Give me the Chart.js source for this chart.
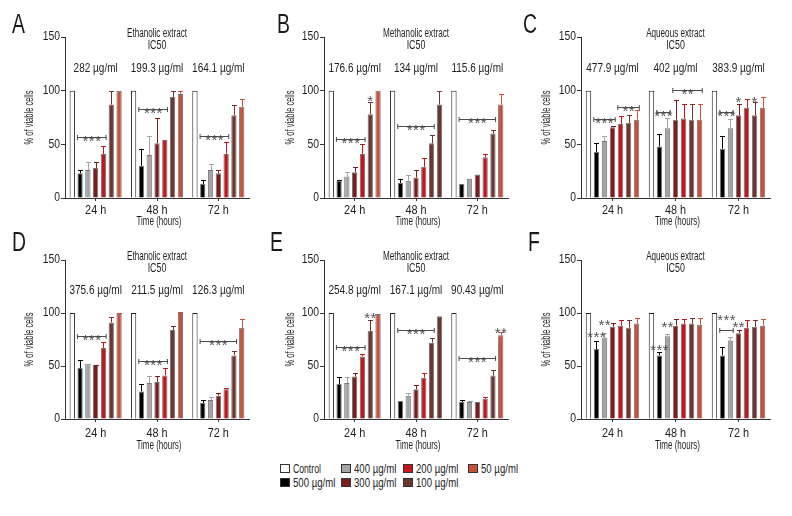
<!DOCTYPE html>
<html>
<head>
<meta charset="utf-8">
<script src="https://cdn.jsdelivr.net/npm/chart.js@4.4.1/dist/chart.umd.min.js"></script>
<style>
  body { margin: 0; background: #fff; width: 792px; height: 516px; position: relative; overflow: hidden;
         font-family: "Liberation Sans", Arial, sans-serif; }
  canvas { position: absolute; }
  .lg { position: absolute; font-size: 12px; color: #222; line-height: 14px; white-space: nowrap; }
  .lg i { display: inline-block; width: 8px; height: 7px; border: 1px solid #333; vertical-align: 0px; margin-right: 3px; }
  .lg span { display: inline-block; transform: scaleX(0.8); transform-origin: left center; }
</style>
</head>
<body>

<div class="lg" style="left:280px;top:462px"><i style="background:#ffffff"></i><span style="transform:scaleX(0.72)">Control</span></div>
<div class="lg" style="left:280px;top:476px"><i style="background:#000000"></i><span>500 µg/ml</span></div>
<div class="lg" style="left:341px;top:462px"><i style="background:#a4a4a4"></i><span>400 µg/ml</span></div>
<div class="lg" style="left:341px;top:476px"><i style="background:#7b1d1d"></i><span>300 µg/ml</span></div>
<div class="lg" style="left:403px;top:462px"><i style="background:#c3161d"></i><span>200 µg/ml</span></div>
<div class="lg" style="left:403px;top:476px"><i style="background:#6c3631"></i><span>100 µg/ml</span></div>
<div class="lg" style="left:468px;top:462px"><i style="background:#c5523a"></i><span>50 µg/ml</span></div>

<script>
const FONT = '"Liberation Sans", Arial, sans-serif';

const groups = ['24 h', '48 h', '72 h'];
const doses = ['Control', '500 µg/ml', '400 µg/ml', '300 µg/ml', '200 µg/ml', '100 µg/ml', '50 µg/ml'];
const doseColors = ['#ffffff', '#000000', '#a4a4a4', '#7b1d1d', '#c3161d', '#6c3631', '#c5523a'];
const yTicks = [0, 50, 100, 150];

// one row per time point, one value per dose (Control .. 50 µg/ml); err = top of the error bar
const aMean = [[100, 23, 26, 28, 41, 87, 100], [100, 30, 40, 51, 54, 94, 97], [100, 13, 26, 23, 41, 77, 85]];
const aErr  = [[null, 26, 34, 34, 48, 100, null], [null, 46, 58, 75, null, 100, 100], [null, 17, 32, 26, 52, 87, 92]];
const aIC50 = ['282 µg/ml', '199.3 µg/ml', '164.1 µg/ml'];
const aSig  = [
  { g: 0, from: 1, to: 4, y: 57, text: '***', line: true },
  { g: 1, from: 1, to: 4, y: 83, text: '***', line: true },
  { g: 2, from: 1, to: 4, y: 58, text: '***', line: true }
];

const bMean = [[100, 16, 20, 24, 41, 78, 100], [100, 14, 16, 19, 29, 51, 87], [100, 13, 18, 22, 38, 60, 87]];
const bErr  = [[null, 17, 24, 29, 50, 89, null], [null, 18, 21, 26, 37, 59, 100], [null, null, null, null, 41, 63, 97]];
const bIC50 = ['176.6 µg/ml', '134 µg/ml', '115.6 µg/ml'];
const bSig  = [
  { g: 0, from: 1, to: 4, y: 55, text: '***', line: true },
  { g: 0, from: 5, to: 5, y: 96, text: '*', line: false },
  { g: 1, from: 1, to: 5, y: 67, text: '***', line: true },
  { g: 2, from: 1, to: 5, y: 74, text: '***', line: true }
];

const cMean = [[100, 43, 53, 66, 69, 70, 73], [100, 48, 65, 73, 74, 73, 73], [100, 46, 65, 77, 84, 77, 84]];
const cErr  = [[null, 51, 58, 67, 76, 77, 82], [null, 60, 75, 91, 88, 88, 88], [null, 58, 74, 88, 92, 89, 94]];
const cIC50 = ['477.9 µg/ml', '402 µg/ml', '383.9 µg/ml'];
const cSig  = [
  { g: 0, from: 1, to: 3, y: 74, text: '***', line: true },
  { g: 0, from: 4, to: 6, y: 85, text: '**', line: true },
  { g: 1, from: 1, to: 2, y: 80, text: '***', line: true },
  { g: 1, from: 3, to: 6, y: 101, text: '**', line: true },
  { g: 2, from: 1, to: 2, y: 80, text: '***', line: true },
  { g: 2, from: 3, to: 3, y: 95, text: '*', line: false },
  { g: 2, from: 5, to: 5, y: 95, text: '*', line: false }
];

const dMean = [[100, 48, 52, 51, 67, 91, 99], [100, 26, 34, 35, 41, 84, 100], [100, 15, 18, 22, 28, 60, 86]];
const dErr  = [[null, 56, 52, 51, 73, 96, 100], [null, 33, 41, 41, 48, 88, 101], [null, 18, 21, 25, 29, 64, 94]];
const dIC50 = ['375.6 µg/ml', '211.5 µg/ml', '126.3 µg/ml'];
const dSig  = [
  { g: 0, from: 1, to: 4, y: 78, text: '***', line: true },
  { g: 1, from: 1, to: 4, y: 55, text: '***', line: true },
  { g: 2, from: 1, to: 5, y: 74, text: '***', line: true }
];

const eMean = [[100, 33, 34, 40, 59, 83, 99], [100, 17, 22, 28, 39, 72, 97], [100, 16, 16, 16, 19, 41, 79]];
const eErr  = [[null, 40, 40, 43, 61, 93, null], [null, null, 25, 32, 43, 76, null], [null, 18, 17, null, 21, 46, 82]];
const eIC50 = ['254.8 µg/ml', '167.1 µg/ml', '90.43 µg/ml'];
const eSig  = [
  { g: 0, from: 1, to: 4, y: 68, text: '***', line: true },
  { g: 0, from: 5, to: 5, y: 101, text: '**', line: false },
  { g: 1, from: 1, to: 5, y: 84, text: '***', line: true },
  { g: 2, from: 1, to: 5, y: 58, text: '***', line: true },
  { g: 2, from: 6, to: 6, y: 87, text: '**', line: false }
];

const fMean = [[100, 66, 77, 87, 88, 86, 90], [100, 60, 78, 88, 90, 90, 89], [100, 60, 74, 81, 86, 87, 88]];
const fErr  = [[null, 74, 81, 91, 93, 93, 95], [null, 63, 80, 94, 94, 95, 95], [null, 68, 77, 84, 93, 93, 94]];
const fIC50 = [];
const fSig  = [
  { g: 0, from: 1, to: 1, y: 83, text: '***', line: false },
  { g: 0, from: 2, to: 2, y: 94, text: '**', line: false },
  { g: 1, from: 1, to: 1, y: 71, text: '***', line: false },
  { g: 1, from: 2, to: 2, y: 92, text: '**', line: false },
  { g: 2, from: 1, to: 2, y: 84, text: '', line: true },
  { g: 2, from: 1, to: 2, y: 99, text: '***', line: false },
  { g: 2, from: 3, to: 3, y: 92, text: '**', line: false }
];

// layout of the six panels (page pixels)
const cols = [
  { L: 0,   W: 262, cl: 65,  cr: 249, tx: 30 },
  { L: 262, W: 252, cl: 324, cr: 508, tx: 291 },
  { L: 514, W: 278, cl: 581, cr: 770, tx: 547 }
];
const rows = [
  { T: 0,   H: 232, ct: 37,  cb: 198, tickY: 211, titleY: 221.5 },
  { T: 226, H: 232, ct: 260, cb: 419, tickY: 434, titleY: 446 }
];

const panels = [
  { letter: 'A', lx: 12,  ly: 33,  col: 0, row: 0, title: 'Ethanolic extract',  mean: aMean, err: aErr, ic50: aIC50, sig: aSig },
  { letter: 'B', lx: 277, ly: 33,  col: 1, row: 0, title: 'Methanolic extract', mean: bMean, err: bErr, ic50: bIC50, sig: bSig, recolor: { g: 1, ds: 6 } },
  { letter: 'C', lx: 523, ly: 33,  col: 2, row: 0, title: 'Aqueous extract',    mean: cMean, err: cErr, ic50: cIC50, sig: cSig },
  { letter: 'D', lx: 12,  ly: 251, col: 0, row: 1, title: 'Ethanolic extract',  mean: dMean, err: dErr, ic50: dIC50, sig: dSig },
  { letter: 'E', lx: 270, ly: 251, col: 1, row: 1, title: 'Methanolic extract', mean: eMean, err: eErr, ic50: eIC50, sig: eSig, recolor: { g: 1, ds: 6 } },
  { letter: 'F', lx: 528, ly: 251, col: 2, row: 1, title: 'Aqueous extract',    mean: fMean, err: fErr, ic50: fIC50, sig: fSig }
];

// condensed text: the installed fonts are wider than the figure's, so squeeze horizontally
function squeezed(ctx, text, x, y, sx, align, rot) {
  ctx.save();
  ctx.translate(x, y);
  if (rot) ctx.rotate(rot);
  ctx.scale(sx, 1);
  ctx.textAlign = align;
  ctx.fillText(text, 0, 0);
  ctx.restore();
}

function stars(ctx, n, x, y) {
  ctx.save();
  ctx.font = '15px ' + FONT;
  for (let k = 0; k < n; k++) {
    squeezed(ctx, '*', x + (k - (n - 1) / 2) * 6.3, y, 1, 'center');
  }
  ctx.restore();
}

function decor(p, c, r) {
  return {
    id: 'decor' + p.letter,
    afterDatasetsDraw(chart) {
      const ctx = chart.ctx, y = chart.scales.y;
      ctx.save();
      ctx.lineWidth = 1;
      chart.data.datasets.forEach((ds, i) => {
        const meta = chart.getDatasetMeta(i);
        meta.data.forEach((bar, j) => {
          const e = ds.err[j];
          if (e == null) return;
          const yt = Math.round(y.getPixelForValue(e)) + 0.5;
          const x = Math.round(bar.x) + 0.5;
          ctx.strokeStyle = ds.backgroundColor[j];
          ctx.beginPath();
          ctx.moveTo(x, bar.y);
          ctx.lineTo(x, yt);
          ctx.moveTo(x - 2.5, yt);
          ctx.lineTo(x + 2.5, yt);
          ctx.stroke();
        });
      });
      ctx.restore();
    },
    afterDraw(chart) {
      const ctx = chart.ctx, y = chart.scales.y, x = chart.scales.x;
      const area = chart.chartArea;
      const midX = (area.left + area.right) / 2;
      ctx.save();
      ctx.fillStyle = '#1a1a1a';
      ctx.font = '27px ' + FONT;
      ctx.textBaseline = 'alphabetic';
      squeezed(ctx, p.letter, p.lx - c.L, p.ly - r.T, 0.72, 'left');

      ctx.font = '12.5px ' + FONT;
      ctx.textBaseline = 'middle';
      ctx.fillStyle = '#1e1e1e';
      // axes text
      yTicks.forEach(v => squeezed(ctx, String(v), area.left - 5, y.getPixelForValue(v), 0.83, 'right'));
      groups.forEach((g, i) => squeezed(ctx, g, x.getPixelForValue(i), r.tickY - r.T, 0.87, 'center'));
      squeezed(ctx, 'Time (hours)', midX + 2, r.titleY - r.T, 0.64, 'center');
      squeezed(ctx, '% of viable cells', c.tx - c.L, (area.top + area.bottom) / 2, 0.6, 'center', -Math.PI / 2);
      // titles and IC50 values
      squeezed(ctx, p.title, midX, y.getPixelForValue(153.5), 0.65, 'center');
      squeezed(ctx, 'IC50', midX, y.getPixelForValue(142), 0.71, 'center');
      p.ic50.forEach((t, g) => squeezed(ctx, t, x.getPixelForValue(g), y.getPixelForValue(121), 0.8, 'center'));

      // significance marks
      ctx.strokeStyle = '#4a4a4a';
      ctx.fillStyle = '#555';
      ctx.lineWidth = 1;
      ctx.textBaseline = 'alphabetic';
      p.sig.forEach(s => {
        const b1 = chart.getDatasetMeta(s.from).data[s.g];
        const b2 = chart.getDatasetMeta(s.to).data[s.g];
        const x1 = b1.x - b1.width / 2, x2 = b2.x + b2.width / 2;
        const yy = Math.round(y.getPixelForValue(s.y)) + 0.5;
        if (s.line) {
          ctx.beginPath();
          ctx.moveTo(x1, yy); ctx.lineTo(x2, yy);
          ctx.moveTo(x1, yy - 2.5); ctx.lineTo(x1, yy + 2.5);
          ctx.moveTo(x2, yy - 2.5); ctx.lineTo(x2, yy + 2.5);
          ctx.stroke();
          if (s.text) stars(ctx, s.text.length, (x1 + x2) / 2, yy + 8);
        } else {
          stars(ctx, s.text.length, (b1.x + b2.x) / 2, yy + 10);
        }
      });
      ctx.restore();
    }
  };
}

panels.forEach(p => {
  const c = cols[p.col], r = rows[p.row];
  const cv = document.createElement('canvas');
  cv.width = c.W; cv.height = r.H;
  cv.style.left = c.L + 'px'; cv.style.top = r.T + 'px';
  document.body.appendChild(cv);

  const xH = r.T + r.H - r.cb;

  const datasets = doses.map((d, i) => ({
    label: d,
    data: p.mean.map(row => row[i]),
    err: p.err.map(row => row[i]),
    backgroundColor: groups.map((g, j) =>
      (p.recolor && p.recolor.g === j && p.recolor.ds === i) ? doseColors[5] : doseColors[i]),
    borderColor: i === 0 ? '#222' : 'rgba(0,0,0,0.55)',
    borderWidth: 1,
    categoryPercentage: 0.89,
    barPercentage: 0.68
  }));

  new Chart(cv, {
    type: 'bar',
    data: { labels: groups, datasets },
    options: {
      responsive: false, animation: false, devicePixelRatio: 1,
      layout: { padding: { left: 0, right: c.L + c.W - c.cr, top: r.ct - r.T, bottom: 0 } },
      plugins: { legend: { display: false }, tooltip: { enabled: false } },
      scales: {
        x: {
          grid: { drawOnChartArea: false, offset: false, tickLength: 3, color: '#333' },
          border: { color: '#333' },
          ticks: { display: false },
          afterFit: s => { s.height = xH; }
        },
        y: {
          min: 0, max: 150,
          afterBuildTicks: s => { s.ticks = yTicks.map(v => ({ value: v })); },
          grid: { drawOnChartArea: false, tickLength: 4, color: '#333' },
          border: { color: '#333' },
          ticks: { display: false },
          afterFit: s => { s.width = c.cl - c.L; }
        }
      }
    },
    plugins: [decor(p, c, r)]
  });
});
</script>
</body>
</html>
